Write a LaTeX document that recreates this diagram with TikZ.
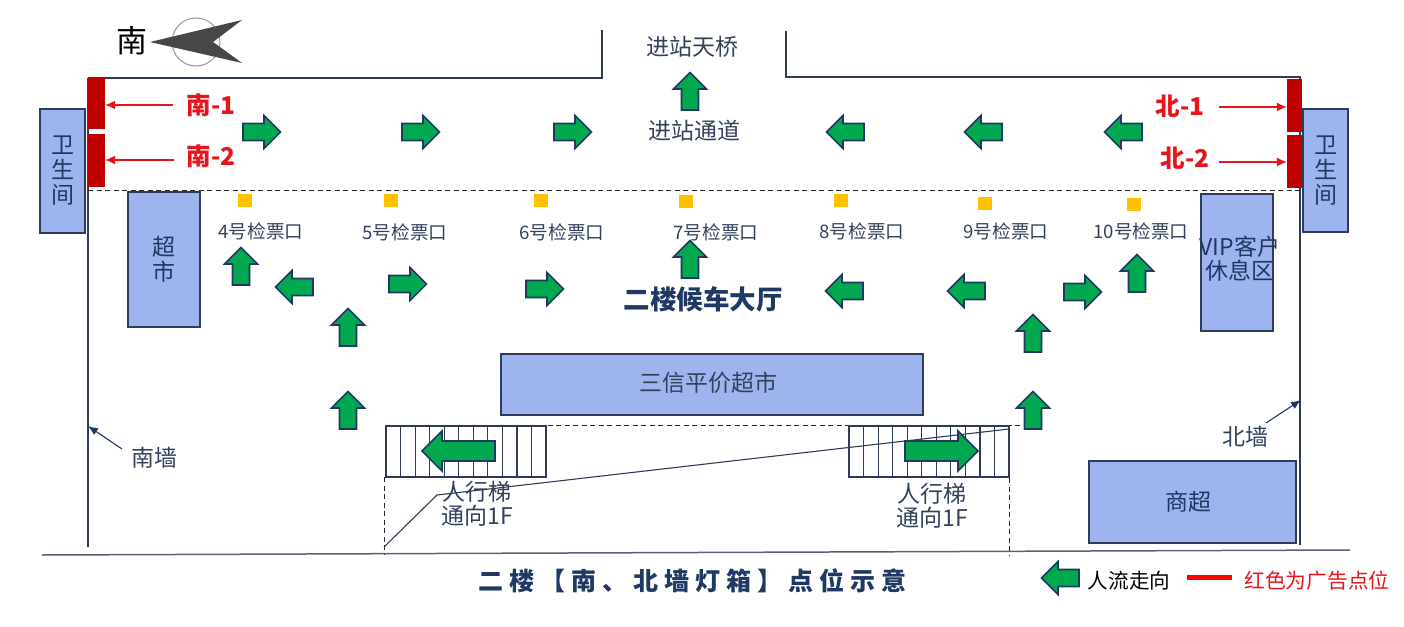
\documentclass[tikz,border=0pt]{standalone}
\usepackage{fontspec}
\setmainfont{Noto Sans CJK SC}
\newfontfamily\titlefont[LetterSpace=24]{Noto Sans CJK SC}
\usetikzlibrary{arrows.meta,calc}
\definecolor{navy}{HTML}{1F3864}
\definecolor{wall}{HTML}{2F3B58}
\definecolor{roomblue}{HTML}{9DB4EE}
\definecolor{flowgreen}{HTML}{00A84F}
\definecolor{barred}{HTML}{C00000}
\definecolor{labelred}{HTML}{E8141C}
\definecolor{txt}{HTML}{33415C}
\definecolor{ticketyellow}{HTML}{FFC000}
\tikzset{
  x=1pt,y=-1pt,
  wallline/.style={draw=wall,line width=1.4pt},
  thinline/.style={draw=wall,line width=1.2pt},
  dashline/.style={draw=black!85,line width=1pt,dash pattern=on 5pt off 3.5pt},
  room/.style={draw=wall,line width=1.2pt,fill=roomblue,text=navy,inner sep=0pt,align=center,font=\fontsize{23}{25}\selectfont},
  redbar/.style={fill=barred,inner sep=0pt},
  ticket/.style={fill=ticketyellow,inner sep=0pt,minimum width=14pt,minimum height=13pt},
  gatelabel/.style={text=txt,font=\fontsize{18.6}{20}\selectfont,inner sep=0pt},
  plain/.style={text=txt,align=center,inner sep=0pt,font=\fontsize{23}{24}\selectfont},
  redlabel/.style={text=labelred,inner sep=0pt,font=\fontsize{24.5}{26}\selectfont\bfseries},
  redarrow/.style={draw=labelred,line width=1.2pt,-{Latex[length=10pt,width=9pt]}},
  wallarrow/.style={draw=navy,line width=1.1pt,-{Latex[length=10pt,width=8pt]}},
  flow/.pic={\draw[draw=navy,line width=1.6pt,fill=flowgreen,line join=miter]
     (-19,-8.5)--(2,-8.5)--(2,-16.5)--(18.5,0)--(2,16.5)--(2,8.5)--(-19,8.5)--cycle;},
  bigflow/.pic={\draw[draw=navy,line width=1.6pt,fill=flowgreen,line join=miter]
     (-37,-10)--(16,-10)--(16,-20)--(36,0)--(16,20)--(16,10)--(-37,10)--cycle;},
}
\begin{document}
\begin{tikzpicture}
\useasboundingbox (0,0) rectangle (1404,626);
% compass
\node[text=black,inner sep=0pt,font=\fontsize{31}{34}\selectfont] (southmark) at (132,41) {南};
\draw[draw=gray!80,line width=1pt] (196,42) circle [radius=24];
\fill[black!72] (150,42)--(242,20)--(213,42)--(242,63)--cycle;
% walls
\draw[wallline] (88,78)--(602,78)--(602,30);
\draw[wallline] (786,31)--(786,77)--(1300,77);
\draw[wallline] (88,78)--(88,547);
\draw[wallline] (1300,76)--(1300,545);
\draw[draw=wall!80,line width=1.5pt] (42,555)--(1350,550);
\draw[dashline] (88,190)--(1300,190);
\draw[dashline] (386,425)--(1030,425);
\draw[dashline] (384,477)--(384,555);
\draw[dashline] (1009,478)--(1009,555);
% escalators
\foreach \sx in {386,849}{
  \draw[thinline] (\sx,426) rectangle ++(160,51);
  \foreach \k in {1,...,10} \draw[thinline] ({\sx+\k*14.55},426)--++(0,51);
}
\draw[draw=wall,line width=1.1pt] (384,547)--(437,495)--(1009,429);
% rooms
\node[room,minimum width=45pt,minimum height=124pt] (wcS) at (62.5,171) {卫\\生\\间};
\node[room,minimum width=45pt,minimum height=123pt] (wcN) at (1325.5,170.5) {卫\\生\\间};
\node[room,minimum width=72pt,minimum height=135pt] (shop) at (164,259.5) {超\\市};
\node[room,minimum width=72pt,minimum height=137pt] (vip) at (1237,262.5) {};
\node[text=navy,align=center,inner sep=0pt,font=\fontsize{23}{24}\selectfont] (viplabel) at (1240,259) {VIP客户\\休息区};
\node[room,minimum width=422pt,minimum height=61pt] (sanxin) at (712,384.5) {};
\node[text=txt,inner sep=0pt,font=\fontsize{23}{25}\selectfont] (sanxinlabel) at (708,383) {三信平价超市};
\node[room,minimum width=207pt,minimum height=82pt] (mall) at (1192.5,502) {};
\node[text=navy,inner sep=0pt,font=\fontsize{23}{25}\selectfont] (malllabel) at (1188,502) {商超};
% red bars
\node[redbar,minimum width=17pt,minimum height=51pt] (barS1) at (96.5,103.5) {};
\node[redbar,minimum width=17pt,minimum height=53pt] (barS2) at (96.5,160.5) {};
\node[redbar,minimum width=15pt,minimum height=53pt] (barN1) at (1294.5,105.5) {};
\node[redbar,minimum width=15pt,minimum height=53pt] (barN2) at (1294.5,161.5) {};
% red labels
\node[redlabel] (ls1) at (211,105) {南-1};
\node[redlabel] (ls2) at (211,156) {南-2};
\node[redlabel] (ln1) at (1180,106) {北-1};
\node[redlabel] (ln2) at (1185,158) {北-2};
\coordinate (as1) at (173,105);
\coordinate (as2) at (174,160);
\coordinate (an1) at (1219,107);
\coordinate (an2) at (1219,162);
\draw[redarrow] (as1) -- (as1 -| barS1.east);
\draw[redarrow] (as2) -- (as2 -| barS2.east);
\draw[redarrow] (an1) -- (an1 -| barN1.west);
\draw[redarrow] (an2) -- (an2 -| barN2.west);
% ticket squares
\node[ticket] (t4) at (245,200) {};
\node[ticket] (t5) at (391,200) {};
\node[ticket] (t6) at (541,200) {};
\node[ticket] (t7) at (686,201) {};
\node[ticket] (t8) at (841,200) {};
\node[ticket] (t9) at (985,203) {};
\node[ticket] (t10) at (1134,204) {};
\node[gatelabel] (g4) at (261,231) {4号检票口};
\node[gatelabel] (g5) at (405,232) {5号检票口};
\node[gatelabel] (g6) at (562,232) {6号检票口};
\node[gatelabel] (g7) at (716,232) {7号检票口};
\node[gatelabel] (g8) at (862,231) {8号检票口};
\node[gatelabel] (g9) at (1006,231) {9号检票口};
\node[gatelabel] (g10) at (1141,231) {10号检票口};
% labels
\node[plain] (bridge) at (692,47) {进站天桥};
\node[plain] (passage) at (694,131) {进站通道};
\node[text=navy,inner sep=0pt,font=\fontsize{26.5}{28}\selectfont\bfseries] (hall) at (703,299) {二楼候车大厅};
\node[plain] (escS) at (477,504) {人行梯\\通向1F};
\node[plain] (escN) at (932,506) {人行梯\\通向1F};
\node[plain] (southwall) at (154,458) {南墙};
\node[plain] (northwall) at (1245,437) {北墙};
\coordinate (sw) at (88,426);
\coordinate (nw) at (1301,400);
\draw[wallarrow] (122,449) -- (sw);
\draw[wallarrow] (1266,423) -- (nw);
% flow arrows
\foreach \px/\py in {262/132,421/132,573/132,408/284,545/289,1083/292}
  \pic at (\px,\py) {flow};
\foreach \px/\py in {845/132,983/132,1123/132,294/287,844/291,966/291}
  \pic[rotate=180] at (\px,\py) {flow};
\foreach \px/\py in {690/91,241/266,690/259,1137/273,348/327,348/410,1033/333,1033/410}
  \pic[rotate=90] at (\px,\py) {flow};
\pic[rotate=180] at (458,451) {bigflow};
\pic at (942,451) {bigflow};
% title and legend
\node[text=navy,inner sep=0pt,font=\titlefont\fontsize{25}{28}\selectfont\bfseries] (title) at (692,581) {二楼【南、北墙灯箱】点位示意};
\pic[rotate=180] at (1060,578) {flow};
\node[text=black,inner sep=0pt,font=\fontsize{20.6}{22}\selectfont] (legflow) at (1129,581) {人流走向};
\node[fill=red,inner sep=0pt,minimum width=45pt,minimum height=5pt] (legbar) at (1209.5,577.5) {};
\node[text=labelred,inner sep=0pt,font=\fontsize{20.7}{24}\selectfont] (legred) at (1317,581) {红色为广告点位};
\end{tikzpicture}
\end{document}
